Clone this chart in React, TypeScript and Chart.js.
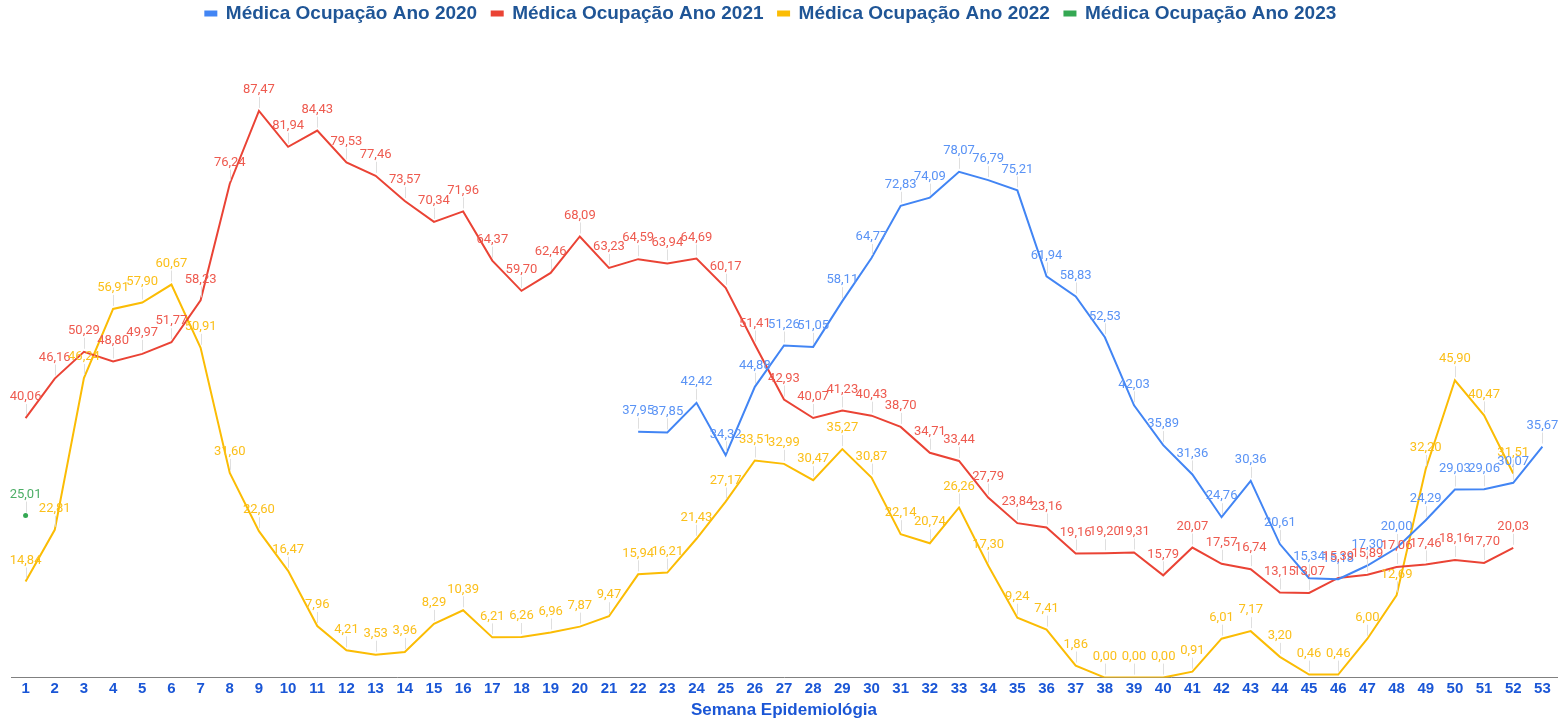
import React, { useEffect, useRef } from "react";
import { Chart, registerables } from "chart.js";

Chart.register(...registerables);

const weeks: string[] = Array.from({ length: 53 }, (_, i) => String(i + 1));

const ano2020: (number | null)[] = [
  null, null, null, null, null, null, null, null, null, null,
  null, null, null, null, null, null, null, null, null, null,
  null, 37.95, 37.85, 42.42, 34.32, 44.88, 51.26, 51.05, 58.11, 64.77,
  72.83, 74.09, 78.07, 76.79, 75.21, 61.94, 58.83, 52.53, 42.03, 35.89,
  31.36, 24.76, 30.36, 20.61, 15.34, 15.18, 17.3, 20.0, 24.29, 29.03,
  29.06, 30.07, 35.67,
];

const ano2021: (number | null)[] = [
  40.06, 46.16, 50.29, 48.8, 49.97, 51.77, 58.23, 76.24, 87.47, 81.94,
  84.43, 79.53, 77.46, 73.57, 70.34, 71.96, 64.37, 59.7, 62.46, 68.09,
  63.23, 64.59, 63.94, 64.69, 60.17, 51.41, 42.93, 40.07, 41.23, 40.43,
  38.7, 34.71, 33.44, 27.79, 23.84, 23.16, 19.16, 19.2, 19.31, 15.79,
  20.07, 17.57, 16.74, 13.15, 13.07, 15.39, 15.89, 17.06, 17.46, 18.16,
  17.7, 20.03, null,
];

const ano2022: (number | null)[] = [
  14.84, 22.81, 46.24, 56.91, 57.9, 60.67, 50.91, 31.6, 22.6, 16.47,
  7.96, 4.21, 3.53, 3.96, 8.29, 10.39, 6.21, 6.26, 6.96, 7.87,
  9.47, 15.94, 16.21, 21.43, 27.17, 33.51, 32.99, 30.47, 35.27, 30.87,
  22.14, 20.74, 26.26, 17.3, 9.24, 7.41, 1.86, 0.0, 0.0, 0.0,
  0.91, 6.01, 7.17, 3.2, 0.46, 0.46, 6.0, 12.69, 32.2, 45.9,
  40.47, 31.51, null,
];

const ano2023: (number | null)[] = [
  25.01, null, null, null, null, null, null, null, null, null,
  null, null, null, null, null, null, null, null, null, null,
  null, null, null, null, null, null, null, null, null, null,
  null, null, null, null, null, null, null, null, null, null,
  null, null, null, null, null, null, null, null, null, null,
  null, null, null,
];

const seriesNames = [
  "Médica Ocupação Ano 2020",
  "Médica Ocupação Ano 2021",
  "Médica Ocupação Ano 2022",
  "Médica Ocupação Ano 2023",
];
const seriesColors = ["#4285F4", "#EA4335", "#FBBC04", "#34A853"];
const labelColors = ["#5a93f5", "#ee5a4f", "#fbbf1a", "#4cae66"];

const dataLabelPlugin = {
  id: "pointValueLabels",
  afterDatasetsDraw(chart: any) {
    const ctx = chart.ctx;
    ctx.save();
    chart.data.datasets.forEach((ds: any, di: number) => {
      const meta = chart.getDatasetMeta(di);
      if (meta.hidden) return;
      meta.data.forEach((pt: any, i: number) => {
        const v = ds.data[i];
        if (v === null || v === undefined) return;
        const x = pt.x;
        const y = pt.y;
        ctx.strokeStyle = "rgba(215,215,215,0.8)";
        ctx.lineWidth = 1;
        ctx.beginPath();
        ctx.moveTo(Math.round(x) + 0.5, y - 3);
        ctx.lineTo(Math.round(x) + 0.5, y - 14);
        ctx.stroke();
        ctx.fillStyle = labelColors[di];
        ctx.font = "13px Roboto";
        ctx.textAlign = "center";
        ctx.textBaseline = "middle";
        ctx.fillText(Number(v).toFixed(2).replace(".", ","), x, y - 21);
      });
    });
    ctx.restore();
  },
};

export default function App() {
  const canvasRef = useRef<HTMLCanvasElement | null>(null);

  useEffect(() => {
    if (!canvasRef.current) return;
    const allData = [ano2020, ano2021, ano2022, ano2023];
    const chart = new Chart(canvasRef.current, {
      type: "line",
      data: {
        labels: weeks,
        datasets: allData.map((d, i) => ({
          label: seriesNames[i],
          data: d,
          borderColor: seriesColors[i],
          backgroundColor: seriesColors[i],
          borderWidth: 2,
          pointRadius: i === 3 ? 2.5 : 0,
          pointHoverRadius: i === 3 ? 2.5 : 0,
          pointBorderWidth: 0,
          tension: 0,
          spanGaps: false,
        })),
      },
      options: {
        animation: false,
        responsive: false,
        maintainAspectRatio: false,
        layout: { padding: { left: 11, right: 6, top: 0, bottom: 0 } },
        plugins: {
          legend: {
            display: true,
            position: "top",
            labels: {
              color: "#1f5596",
              font: { family: "'Liberation Sans', Arial, sans-serif", size: 19, weight: "bold" },
              boxWidth: 11,
              boxHeight: 4,
              padding: 4,
              generateLabels: (ch: any) => {
                const items = Chart.defaults.plugins.legend.labels.generateLabels(ch);
                return items.map((it: any, idx: number) => ({
                  ...it,
                  text: idx < items.length - 1 ? it.text + "  " : it.text + "     ",
                }));
              },
            },
          },
          tooltip: { enabled: false },
        },
        scales: {
          x: {
            offset: true,
            grid: { display: false, drawTicks: false },
            border: { display: true, color: "#808080", width: 1 },
            ticks: {
              color: "#1a56d6",
              font: { family: "'Liberation Sans', Arial, sans-serif", size: 15, weight: "bold" },
              padding: 2,
              autoSkip: false,
              maxRotation: 0,
            },
            title: {
              display: true,
              text: "Semana Epidemiológia",
              color: "#1a56d6",
              font: { family: "'Liberation Sans', Arial, sans-serif", size: 17, weight: "bold" },
              padding: { top: 1, bottom: 0 },
            },
          },
          y: {
            display: false,
            min: 0,
            max: 99.5,
          },
        },
      },
      plugins: [dataLabelPlugin],
    } as any);
    return () => chart.destroy();
  }, []);

  return (
    <div style={{ position: "absolute", left: 0, top: 0, width: 1563, height: 721, background: "#fff" }}>
      <canvas ref={canvasRef} width={1563} height={721} style={{ display: "block" }} />
    </div>
  );
}
